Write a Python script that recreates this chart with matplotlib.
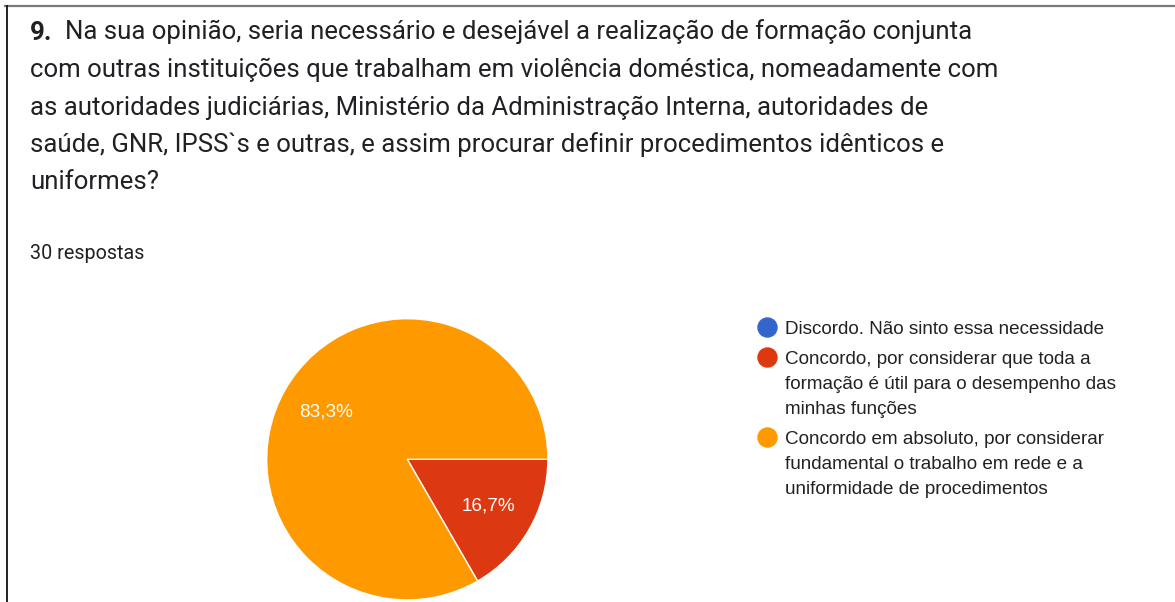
import matplotlib
matplotlib.use("Agg")
import matplotlib.pyplot as plt
from matplotlib.lines import Line2D

# Data
categories = [
    "Discordo. Não sinto essa necessidade",
    "Concordo, por considerar que toda a\nformação é útil para o desempenho das\nminhas funções",
    "Concordo em absoluto, por considerar\nfundamental o trabalho em rede e a\nuniformidade de procedimentos",
]
counts = [0, 5, 25]
colors = ["#3366cc", "#dc3912", "#ff9900"]

question_number = "9."
question_lines = [
    "Na sua opinião, seria necessário e desejável a realização de formação conjunta",
    "com outras instituições que trabalham em violência doméstica, nomeadamente com",
    "as autoridades judiciárias, Ministério da Administração Interna, autoridades de",
    "saúde, GNR, IPSS`s e outras, e assim procurar definir procedimentos idênticos e",
    "uniformes?",
]
n_responses = "30 respostas"

W, H = 1175, 602
fig = plt.figure(figsize=(W / 100, H / 100), dpi=100)
fig.patch.set_facecolor("white")


# helper: pixel coords (from top-left) -> figure fraction
def fx(x):
    return x / W


def fy(y):
    return 1 - y / H


# card border (top gray, left black)
fig.add_artist(Line2D([fx(5), fx(W)], [fy(5.5), fy(5.5)], color="#7a7a7a", lw=1.6))
fig.add_artist(Line2D([fx(6.5), fx(6.5)], [fy(6), fy(H)], color="#111111", lw=1.3))

# question title
title_font = ["Roboto", "DejaVu Sans"]
fig.text(fx(30), fy(39.5), question_number, fontsize=18.5, fontweight="bold",
         family=title_font, color="#202124", va="baseline")
for i, line in enumerate(question_lines):
    x0 = 65 if i == 0 else 30
    fig.text(fx(x0), fy(39.5 + 37.5 * i), line, fontsize=18.5, family=title_font,
             color="#202124", va="baseline")

fig.text(fx(30), fy(259), n_responses, fontsize=14.2, family=title_font,
         color="#202124", va="baseline")

# pie
cx, cy, r = 407.3, 459.3, 140.6
ax = fig.add_axes([fx(cx - r), fy(cy + r), 2 * r / W, 2 * r / H])
vals = [v for v in counts if v > 0]
cols = [c for v, c in zip(counts, colors) if v > 0]


def pct(p):
    return f"{p:.1f}".replace(".", ",") + "%"


wedges, texts, autotexts = ax.pie(
    vals, colors=cols, startangle=0, counterclock=False, autopct=pct,
    pctdistance=0.67, radius=1,
    wedgeprops=dict(edgecolor="white", linewidth=1.0),
    textprops=dict(color="white", fontsize=13.6, family=["Liberation Sans", "DejaVu Sans"]),
)
ax.set_xlim(-1, 1)
ax.set_ylim(-1, 1)
ax.set_aspect("auto")
ax.axis("off")

# legend
legend_font = ["Liberation Sans", "DejaVu Sans"]
y = 334
for label, col in zip(categories, colors):
    lines = label.split("\n")
    fig.add_artist(Line2D([fx(766.7)], [fy(y - 7.5)], marker="o", markersize=13.7,
                          markerfacecolor=col, markeredgecolor=col, linestyle="none"))
    for j, ln in enumerate(lines):
        fig.text(fx(785), fy(y + 25 * j), ln, fontsize=13.6, family=legend_font,
                 color="#222222", va="baseline")
    y += 25 * (len(lines) - 1) + 30

fig.savefig("out.png", dpi=100, facecolor="white")
